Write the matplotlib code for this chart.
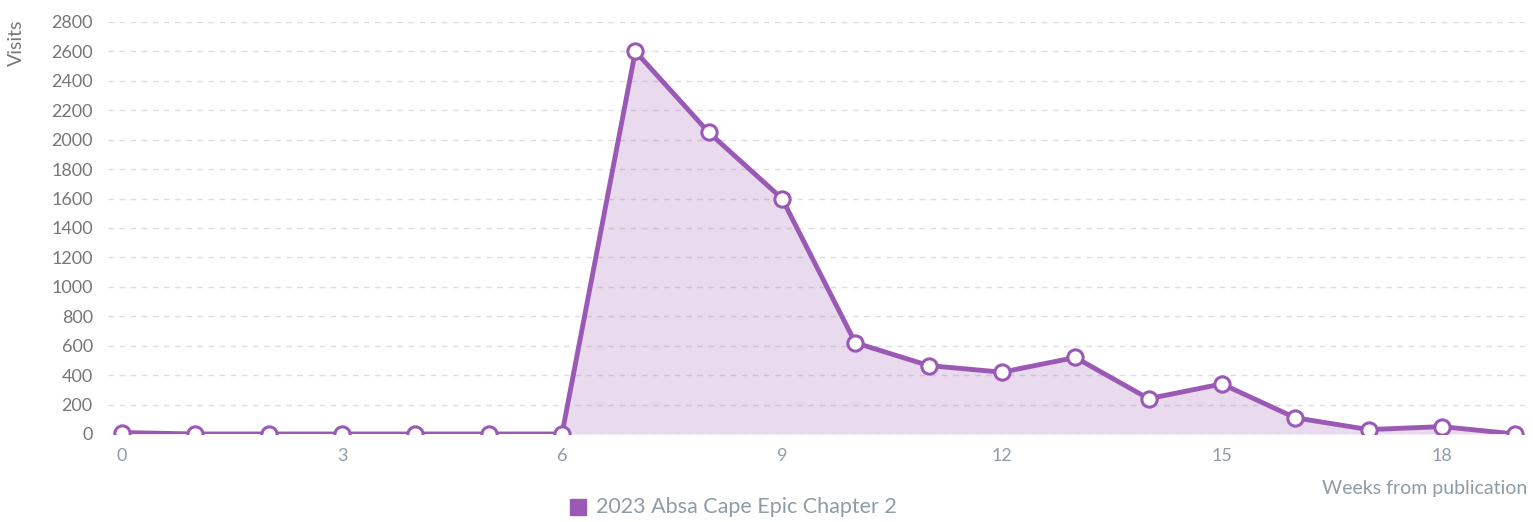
import matplotlib.pyplot as plt
import numpy as np

# Données
weeks = list(range(20))
visits = [10, 0, 0, 0, 0, 0, 0, 2600, 2050, 1600, 620, 465, 420, 520,
          240, 340, 110, 30, 50, 0]
serie = '2023 Absa Cape Epic Chapter 2'
x_ticks = [0, 3, 6, 9, 12, 15, 18]
y_ticks = list(range(0, 2801, 200))

purple = '#9b59b6'
plt.rcParams['font.family'] = ['Lato', 'DejaVu Sans']

fig = plt.figure(figsize=(15.33, 5.22), dpi=100)
ax = fig.add_axes([0.0705, 0.1686, 0.9275, 0.7894])

ax.fill_between(weeks, visits, 0, color=purple, alpha=0.22, linewidth=0)
ax.plot(weeks, visits, color=purple, linewidth=3.5, marker='o', markersize=11,
        markerfacecolor='white', markeredgecolor=purple, markeredgewidth=2.2,
        clip_on=True, zorder=3)

ax.set_xlim(-0.19, 19.2)
ax.set_ylim(0, 2800)
ax.set_xticks(x_ticks)
ax.set_yticks(y_ticks)
ax.tick_params(axis='y', length=0, labelsize=13, labelcolor='#777777', pad=11)
ax.tick_params(axis='x', length=0, labelsize=13, labelcolor='#8e9ca6', pad=10)

ax.grid(axis='y', color='#dddddd', linestyle=(0, (4, 4)), linewidth=1)
ax.set_axisbelow(True)
for s in ax.spines.values():
    s.set_visible(False)

fig.text(0.005, 0.962, 'Visits', rotation=90, ha='left', va='top',
         fontsize=14, color='#777777')
fig.text(0.996, 0.065, 'Weeks from publication', ha='right', va='center',
         fontsize=14, color='#8e9ca6')

# Légende
fig.patches.append(plt.Rectangle((0.372, 0.014), 0.0105, 0.031,
                                 transform=fig.transFigure, color=purple))
fig.text(0.389, 0.028, serie, ha='left', va='center', fontsize=15.5,
         color='#8e9ca6')

fig.savefig('out.png', dpi=100)
